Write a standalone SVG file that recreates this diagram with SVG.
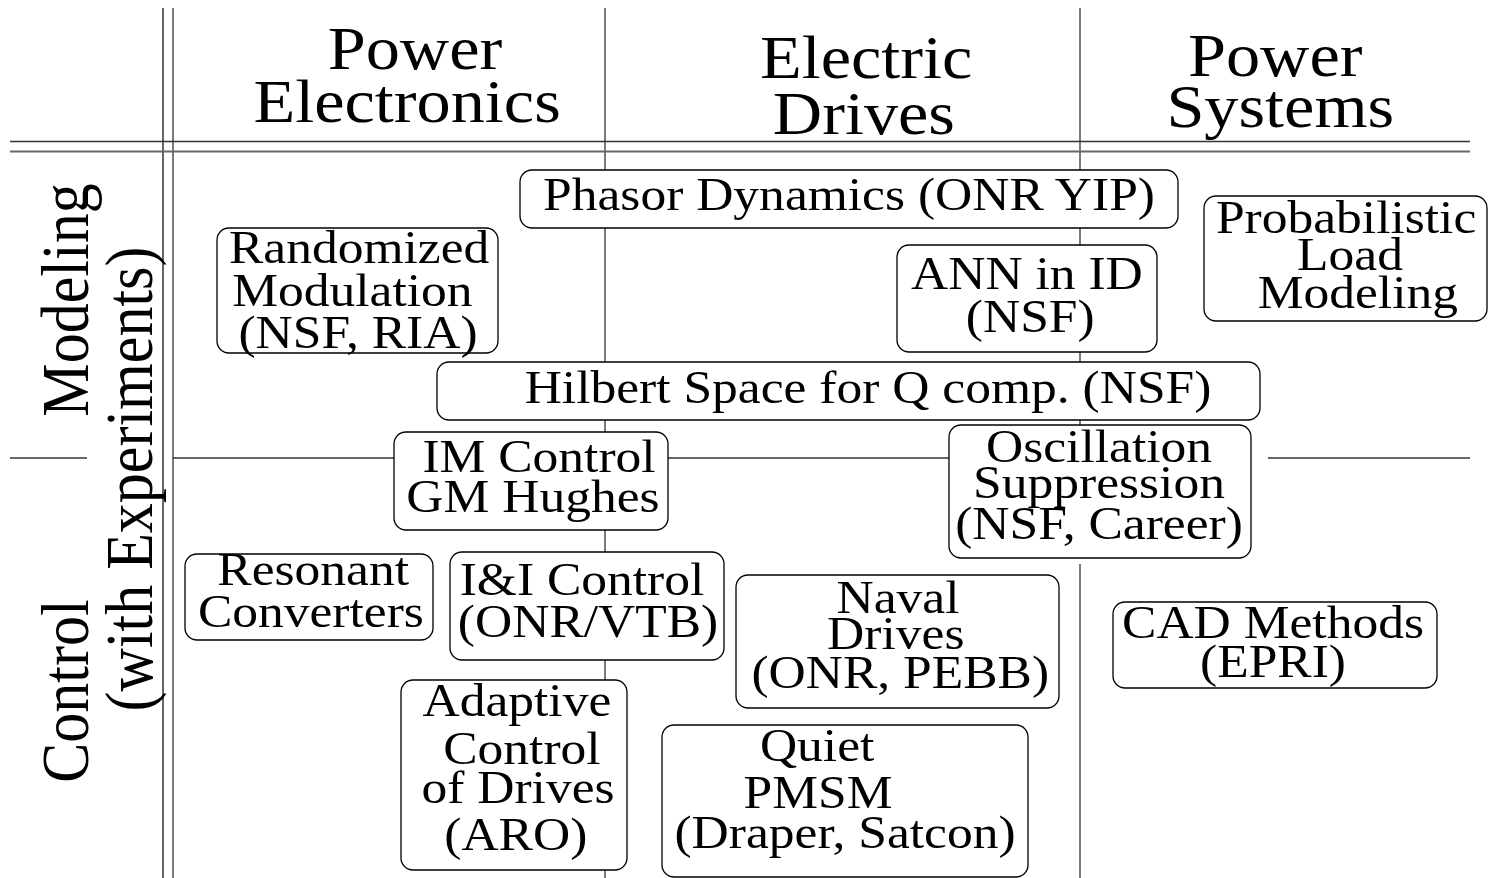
<svg xmlns="http://www.w3.org/2000/svg" width="1488" height="878" viewBox="0 0 1488 878">
<style>
.t{font-family:"Liberation Serif","Times New Roman",serif;font-size:46px;fill:#000;text-anchor:middle}
.h{font-size:61px}
.s{font-size:60px}
.box{fill:#fff;stroke:#000;stroke-width:1.3}
.ln{stroke:#333;stroke-width:1.3;fill:none}
.ln2{stroke:#666;stroke-width:2;fill:none}
</style>
<rect width="1488" height="878" fill="#fff"/>
<g id="grid">
<line class="ln2" x1="163" y1="8" x2="163" y2="878"/>
<line class="ln" x1="173" y1="8" x2="173" y2="878"/>
<line class="ln" x1="605" y1="8" x2="605" y2="878"/>
<line class="ln" x1="1080" y1="8" x2="1080" y2="430"/>
<line class="ln" x1="1080" y1="564" x2="1080" y2="878"/>
<line class="ln" x1="10" y1="141.5" x2="1470" y2="141.5"/>
<line class="ln2" x1="10" y1="151.5" x2="1470" y2="151.5"/>
<line class="ln" x1="10" y1="458" x2="87" y2="458"/>
<line class="ln" x1="173" y1="458" x2="394" y2="458"/>
<line class="ln" x1="668" y1="458" x2="949" y2="458"/>
<line class="ln" x1="1268" y1="458" x2="1470" y2="458"/>
</g>
<g id="headers">
<text class="t h" transform="matrix(1.12,0,0,1,411,0)"><tspan x="3.5" y="69">Power</tspan><tspan x="-3.5" y="122">Electronics</tspan></text>
<text class="t h" transform="matrix(1.12,0,0,1,865,0)"><tspan x="1" y="78">Electric</tspan><tspan x="-1" y="134">Drives</tspan></text>
<text class="t h" transform="matrix(1.12,0,0,1,1278,0)"><tspan x="-2.5" y="76">Power</tspan><tspan x="2" y="127">Systems</tspan></text>
</g>
<g id="row-labels">
<text class="t s" transform="translate(88,300) rotate(-90) scale(1,1.12)">Modeling</text>
<text class="t s" transform="translate(152,479) rotate(-90) scale(1,1.12)">(with Experiments)</text>
<text class="t s" transform="translate(88,691) rotate(-90) scale(1,1.12)">Control</text>
</g>
<g id="phasor">
<rect class="box" x="520" y="170" width="658" height="58" rx="12"/>
<text class="t" transform="matrix(1.12,0,0,1,849,0)"><tspan x="0" y="210">Phasor Dynamics (ONR YIP)</tspan></text>
</g>
<g id="randomized">
<rect class="box" x="217" y="228" width="281" height="125" rx="12"/>
<text class="t" transform="matrix(1.12,0,0,1,358,0)"><tspan x="1" y="263">Randomized</tspan><tspan x="-5" y="306">Modulation</tspan><tspan x="0" y="348">(NSF, RIA)</tspan></text>
</g>
<g id="ann">
<rect class="box" x="897" y="245" width="260" height="107" rx="12"/>
<text class="t" transform="matrix(1.12,0,0,1,1028,0)"><tspan x="-1" y="289">ANN in ID</tspan><tspan x="2" y="332">(NSF)</tspan></text>
</g>
<g id="probabilistic">
<rect class="box" x="1204" y="196" width="283" height="125" rx="12"/>
<text class="t" transform="matrix(1.12,0,0,1,1350,0)"><tspan x="-3.5" y="233">Probabilistic</tspan><tspan x="0" y="270">Load</tspan><tspan x="7" y="308">Modeling</tspan></text>
</g>
<g id="hilbert">
<rect class="box" x="437" y="362" width="823" height="58" rx="12"/>
<text class="t" transform="matrix(1.12,0,0,1,868,0)"><tspan x="0" y="403">Hilbert Space for Q comp. (NSF)</tspan></text>
</g>
<g id="im-control">
<rect class="box" x="394" y="432" width="274" height="98" rx="12"/>
<text class="t" transform="matrix(1.12,0,0,1,536,0)"><tspan x="2.7" y="472">IM Control</tspan><tspan x="-2.7" y="512">GM Hughes</tspan></text>
</g>
<g id="oscillation">
<rect class="box" x="949" y="425" width="302" height="133" rx="12"/>
<text class="t" transform="matrix(1.12,0,0,1,1099,0)"><tspan x="0" y="462">Oscillation</tspan><tspan x="0" y="498">Suppression</tspan><tspan x="0" y="539">(NSF, Career)</tspan></text>
</g>
<g id="resonant">
<rect class="box" x="185" y="554" width="248" height="86" rx="12"/>
<text class="t" transform="matrix(1.12,0,0,1,312,0)"><tspan x="1" y="585">Resonant</tspan><tspan x="-1" y="627">Converters</tspan></text>
</g>
<g id="ii-control">
<rect class="box" x="450" y="552" width="274" height="108" rx="12"/>
<text class="t" transform="matrix(1.12,0,0,1,585,0)"><tspan x="-2.7" y="595">I&amp;I Control</tspan><tspan x="2.7" y="637">(ONR/VTB)</tspan></text>
</g>
<g id="naval">
<rect class="box" x="736" y="575" width="323" height="133" rx="12"/>
<text class="t" transform="matrix(1.12,0,0,1,898,0)"><tspan x="0" y="613">Naval</tspan><tspan x="-2" y="649">Drives</tspan><tspan x="2" y="688">(ONR, PEBB)</tspan></text>
</g>
<g id="adaptive">
<rect class="box" x="401" y="680" width="226" height="190" rx="12"/>
<text class="t" transform="matrix(1.12,0,0,1,518,0)"><tspan x="-1" y="716">Adaptive</tspan><tspan x="3.5" y="764">Control</tspan><tspan x="0" y="803">of Drives</tspan><tspan x="-2" y="850">(ARO)</tspan></text>
</g>
<g id="quiet">
<rect class="box" x="662" y="725" width="366" height="152" rx="12"/>
<text class="t" transform="matrix(1.12,0,0,1,830,0)"><tspan x="-11.5" y="761">Quiet</tspan><tspan x="-10.7" y="808">PMSM</tspan><tspan x="13.4" y="848">(Draper, Satcon)</tspan></text>
</g>
<g id="cad">
<rect class="box" x="1113" y="602" width="324" height="86" rx="12"/>
<text class="t" transform="matrix(1.12,0,0,1,1273,0)"><tspan x="0" y="638">CAD Methods</tspan><tspan x="0" y="677">(EPRI)</tspan></text>
</g>
</svg>
